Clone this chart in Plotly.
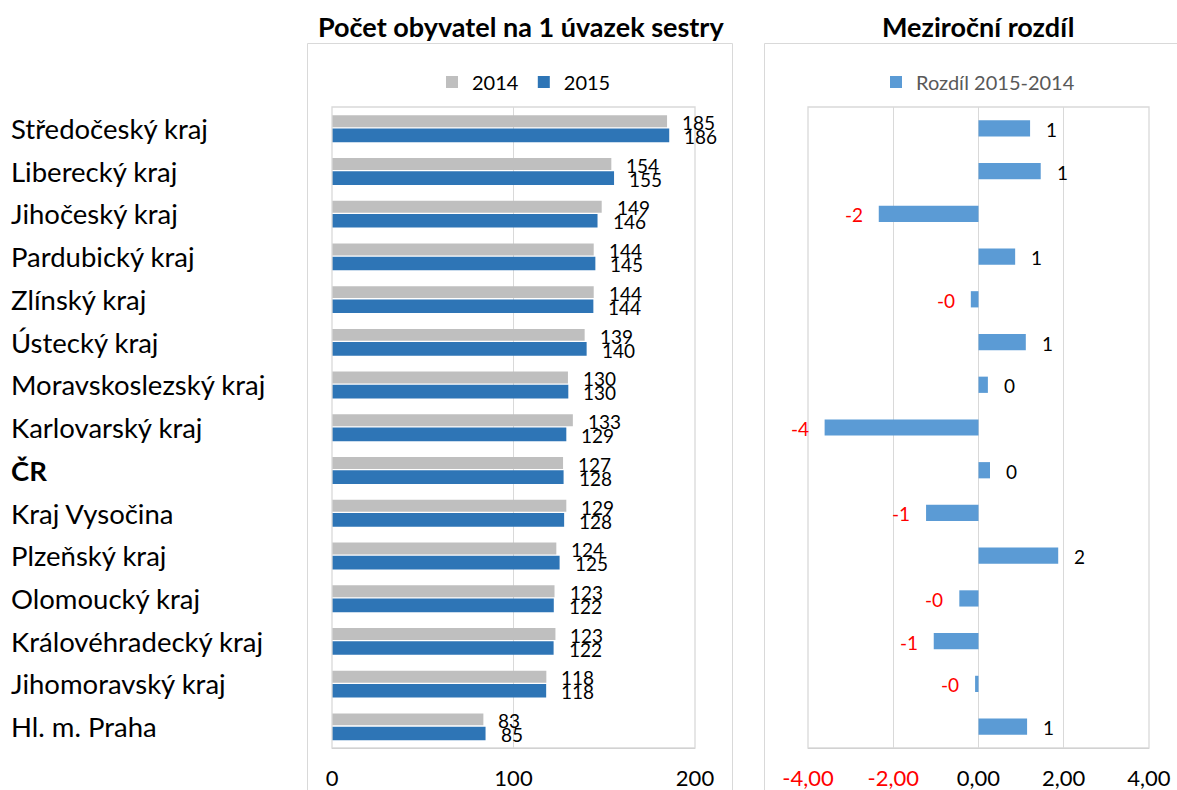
import plotly.graph_objects as go

regions = ["Středočeský kraj", "Liberecký kraj", "Jihočeský kraj", "Pardubický kraj",
           "Zlínský kraj", "Ústecký kraj", "Moravskoslezský kraj", "Karlovarský kraj",
           "ČR", "Kraj Vysočina", "Plzeňský kraj", "Olomoucký kraj",
           "Královéhradecký kraj", "Jihomoravský kraj", "Hl. m. Praha"]
v2014 = [184.6, 153.9, 148.6, 144.2, 144.2, 139.2, 130.0, 132.7, 127.3, 129.1, 123.6, 122.6, 123.1, 118.1, 83.4]
v2015 = [185.8, 155.4, 146.3, 145.1, 144.0, 140.3, 130.2, 129.1, 127.6, 127.9, 125.4, 122.2, 122.1, 118.0, 84.6]
diff = [1.21, 1.46, -2.34, 0.86, -0.18, 1.11, 0.22, -3.61, 0.27, -1.23, 1.87, -0.45, -1.05, -0.08, 1.14]
left_ticks = [0, 100, 200]
right_ticks = [-4, -2, 0, 2, 4]
right_ticktext = ["-4,00", "-2,00", "0,00", "2,00", "4,00"]

W, H = 1177, 790
FONT = "Lato"


def px(x):
    return x / W


def py(y):
    return (H - y) / H


fig = go.Figure()
fig.add_trace(go.Bar(y=regions, x=v2014, orientation="h", name="2014",
                     marker=dict(color="#BFBFBF", line=dict(width=0)),
                     width=0.28, offset=-0.31, xaxis="x", yaxis="y", legend="legend",
                     hoverinfo="x+y"))
fig.add_trace(go.Bar(y=regions, x=v2015, orientation="h", name="2015",
                     marker=dict(color="#2E75B6", line=dict(width=0)),
                     width=0.32, offset=0.0, xaxis="x", yaxis="y", legend="legend",
                     hoverinfo="x+y"))
fig.add_trace(go.Bar(y=regions, x=diff, orientation="h", name="Rozdíl 2015-2014",
                     marker=dict(color="#5B9BD5", line=dict(width=0)),
                     width=0.38, offset=-0.19, xaxis="x2", yaxis="y2", legend="legend2",
                     hoverinfo="x+y"))

annotations = []
# category labels
for r in regions:
    txt = f"<b>{r}</b>" if r == "ČR" else r
    annotations.append(dict(x=px(9), xref="paper", y=r, yref="y", text=txt,
                            xanchor="left", yanchor="middle", showarrow=False,
                            font=dict(family=FONT, size=27.5, color="#000000")))
# left data labels
for r, a, b in zip(regions, v2014, v2015):
    annotations.append(dict(x=a, y=r, xref="x", yref="y", text=f"{a:.0f}",
                            xanchor="left", yanchor="middle", xshift=13, yshift=6,
                            showarrow=False, font=dict(family=FONT, size=19, color="#000000")))
    annotations.append(dict(x=b, y=r, xref="x", yref="y", text=f"{b:.0f}",
                            xanchor="left", yanchor="middle", xshift=13, yshift=-8,
                            showarrow=False, font=dict(family=FONT, size=19, color="#000000")))
# right data labels
for r, d in zip(regions, diff):
    neg = d < 0
    annotations.append(dict(x=d, y=r, xref="x2", yref="y2", text=f"{d:.0f}",
                            xanchor="right" if neg else "left", yanchor="middle",
                            xshift=-14 if neg else 14, yshift=-1, showarrow=False,
                            font=dict(family=FONT, size=19,
                                      color="#FF0000" if neg else "#000000")))
# titles
annotations.append(dict(x=px(521), y=py(27), xref="paper", yref="paper",
                        text="<b>Počet obyvatel na 1 úvazek sestry</b>", showarrow=False,
                        xanchor="center", yanchor="middle",
                        font=dict(family=FONT, size=27, color="#000000")))
annotations.append(dict(x=px(978), y=py(27), xref="paper", yref="paper",
                        text="<b>Meziroční rozdíl</b>", showarrow=False,
                        xanchor="center", yanchor="middle",
                        font=dict(family=FONT, size=27, color="#000000")))

shapes = [
    # outer frames
    dict(type="rect", xref="paper", yref="paper", x0=px(307.5), x1=px(732.5),
         y0=py(805), y1=py(43.5), line=dict(color="#D9D9D9", width=1), layer="below"),
    dict(type="rect", xref="paper", yref="paper", x0=px(764.5), x1=px(1185),
         y0=py(805), y1=py(43.5), line=dict(color="#D9D9D9", width=1), layer="below"),
    # plot area borders
    dict(type="rect", xref="x domain", yref="y domain", x0=0, x1=1, y0=0, y1=1,
         line=dict(color="#D9D9D9", width=1.3), layer="above"),
    dict(type="rect", xref="x2 domain", yref="y2 domain", x0=0, x1=1, y0=0, y1=1,
         line=dict(color="#D9D9D9", width=1.3), layer="above"),
]

ydom = [py(748), py(107)]
ticktext_r = [f'<span style="color:#FF0000">{t}</span>' if v < 0 else t
              for v, t in zip(right_ticks, right_ticktext)]

fig.update_layout(
    width=W, height=H,
    margin=dict(l=0, r=0, t=0, b=0, autoexpand=False),
    paper_bgcolor="white", plot_bgcolor="white",
    barmode="overlay",
    font=dict(family=FONT, color="#000000"),
    showlegend=True,
    xaxis=dict(domain=[px(332), px(695)], range=[0, 200], tickvals=left_ticks,
               ticktext=[str(t) for t in left_ticks], showgrid=True, gridcolor="#D9D9D9",
               gridwidth=1.3, zeroline=False, showline=True, linecolor="#BFBFBF",
               linewidth=1.3, ticks="", ticklabelstandoff=10, anchor="y", automargin=False,
               tickfont=dict(family=FONT, size=22, color="#000000"), fixedrange=True),
    yaxis=dict(domain=ydom, type="category", categoryorder="array", categoryarray=regions,
               autorange="reversed", showticklabels=False, showgrid=False, zeroline=False,
               showline=False, anchor="x", fixedrange=True, automargin=False),
    xaxis2=dict(domain=[px(808), px(1149)], range=[-4, 4], tickvals=right_ticks,
                ticktext=ticktext_r, showgrid=True, gridcolor="#D9D9D9", gridwidth=1.3,
                zeroline=False, showline=True, linecolor="#BFBFBF", linewidth=1.3,
                ticks="", ticklabelstandoff=10, anchor="y2", automargin=False,
                tickfont=dict(family=FONT, size=22, color="#000000"), fixedrange=True),
    yaxis2=dict(domain=ydom, type="category", categoryorder="array", categoryarray=regions,
                autorange="reversed", showticklabels=False, showgrid=False, zeroline=False,
                showline=False, anchor="x2", fixedrange=True, automargin=False),
    legend=dict(orientation="h", x=px(524), y=py(82), xanchor="center", yanchor="middle",
                font=dict(family=FONT, size=20, color="#000000"), bgcolor="rgba(0,0,0,0)",
                itemwidth=30, traceorder="normal"),
    legend2=dict(orientation="h", x=px(978), y=py(82), xanchor="center", yanchor="middle",
                 font=dict(family=FONT, size=20, color="#595959"), bgcolor="rgba(0,0,0,0)",
                 itemwidth=30),
    annotations=annotations,
    shapes=shapes,
)

fig.write_html("out.html", config={"displayModeBar": False},
               post_script="document.body.style.margin='0';document.body.style.overflow='hidden';")
